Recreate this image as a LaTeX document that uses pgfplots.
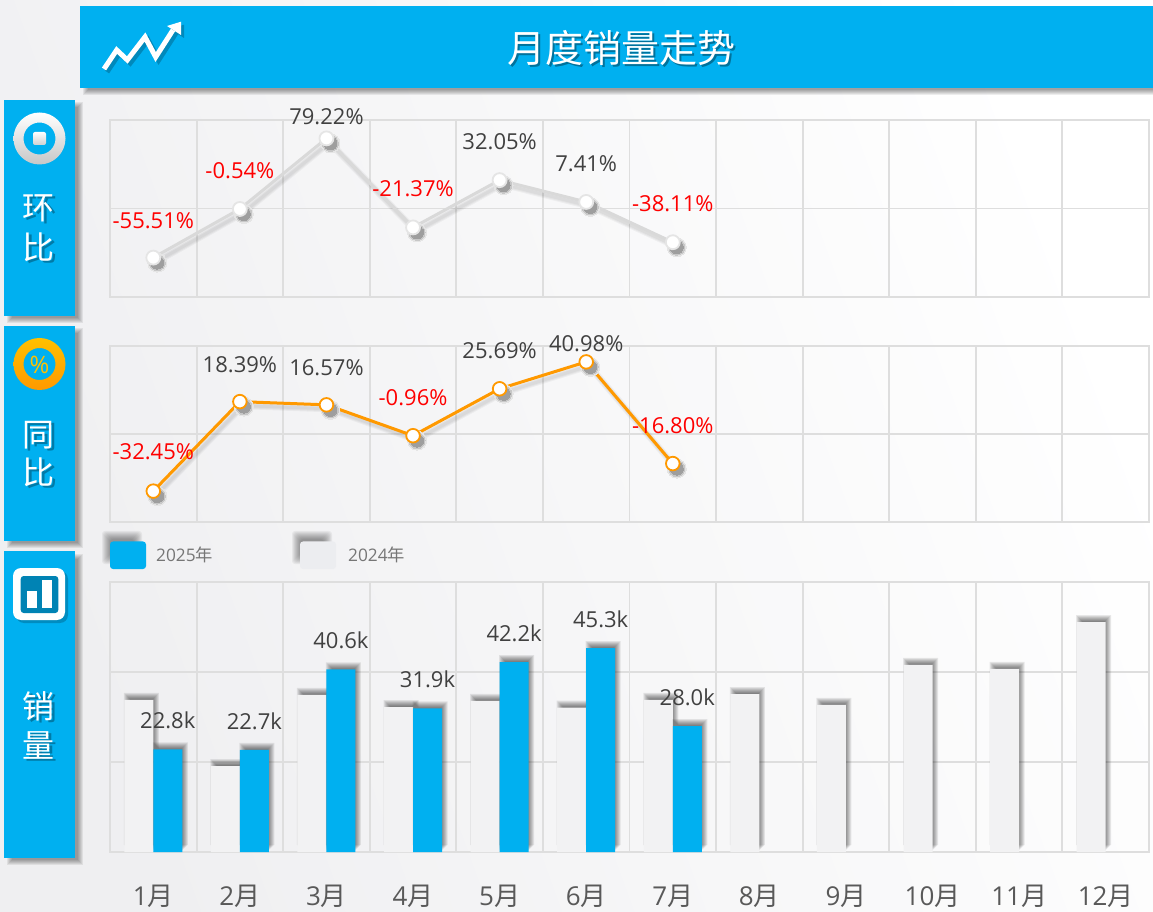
\documentclass[border=0pt]{standalone}
\usepackage{pgfplots}
\usepackage{pgfplotstable}
\usepackage{fontspec}
\pgfplotsset{compat=1.18}
\setmainfont{Open Sans}
\newfontfamily\cjk{Noto Sans CJK SC}
\definecolor{sky}{HTML}{00B0F0}
\definecolor{gridc}{HTML}{DEDEDE}
\definecolor{lineA}{HTML}{D9D9D9}
\definecolor{lineB}{HTML}{FF9900}
\definecolor{barA}{HTML}{F2F2F3}
\definecolor{txt}{HTML}{404040}
\definecolor{patch}{HTML}{ECEDF0}
\definecolor{lgd}{HTML}{767676}
\definecolor{tick}{HTML}{595959}
\definecolor{bgl}{HTML}{EFEFF1}
\definecolor{ringt}{HTML}{FFC000}
\definecolor{iconb}{HTML}{0083B4}
\newcommand\lb{\fontsize{22}{24}\selectfont}
\pgfplotstableread{
m v
1 -55.51
2 -0.54
3 79.22
4 -21.37
5 32.05
6 7.41
7 -38.11
}\hb
\pgfplotstableread{
m v
1 -32.45
2 18.39
3 16.57
4 -0.96
5 25.69
6 40.98
7 -16.80
}\tb
\pgfplotstableread{
m v
1 33.8
2 19.1
3 34.9
4 32.2
5 33.6
6 32.1
7 33.8
8 35.1
9 32.7
10 41.6
11 40.7
12 51.1
}\ya
\pgfplotstableread{
m v
1 22.8
2 22.7
3 40.6
4 31.9
5 42.2
6 45.3
7 28.0
}\yb
\pgfplotsset{panel/.style={
  scale only axis, width=1039pt, xmin=0.5, xmax=12.5, clip=false,
  xtick={1,...,12}, minor xtick={0.5,1.5,...,12.5},
  xminorgrids=true, ymajorgrids=true,
  major tick length=0pt, minor tick length=0pt,
  grid style={gridc,line width=1.9pt}, minor grid style={gridc,line width=1.9pt},
  axis line style={gridc,line width=1.9pt},
  yticklabels={},
}}
% soft rectangular shadow, pixel coordinates
\newcommand\softbox[5]{\foreach \d in {-2.5,-1.5,-0.5,0.5,1.5,2.5}{
  \fill[black,opacity=#5] ({#1-\d},{#2-\d}) rectangle ({#3+\d},{#4+\d});}}
\newcommand\softwide[5]{\foreach \d in {-4,-3,-2,-1,0,1,2,3,4}{
  \fill[black,opacity=#5,rounded corners=3pt] ({#1-\d},{#2-\d}) rectangle ({#3+\d},{#4+\d});}}
\newcommand\barshadow[2]{\pgfplotsinvokeforeach{-3,-2,-1,0,1,2,3}{%
  \addplot[ybar,draw=none,fill=black,fill opacity=.085,bar width={29pt+2*(##1)*1pt},bar shift=#2,xshift=2.5pt,yshift={(4+##1)*1pt}] table[x=m,y=v]{#1};}}
\newcommand\markshadow[3]{\addplot[only marks,mark=*,mark size=#2 pt,mark options={draw=black!#3!white,fill=black!#3!white,line width=0pt},xshift=4pt,yshift=-5pt] table[x=m,y=v]{#1};}
\newcommand\lineshadow[1]{\pgfplotsinvokeforeach{3,5,7}{%
  \addplot[black,opacity=.04,line width=##1 pt,xshift=3pt,yshift=-4pt] table[x=m,y=v]{#1};}
  \markshadow{#1}{9.5}{10}\markshadow{#1}{8}{22}\markshadow{#1}{6.5}{38}}
\newcommand\lab[5]{\node[font=\lb,text=#4,yshift=#3 pt] at (axis cs:#1,#2) {#5};}
\begin{document}
\begin{tikzpicture}
\useasboundingbox (0,0) rectangle (1153pt,911pt);
\shade[left color=bgl,right color=white,shading angle=110] (0,0) rectangle (1153pt,911pt);
\begin{scope}[x=1pt,y=-1pt,yshift=911pt]
  % title band
  \softbox{85}{11}{1158}{93}{.07}
  \fill[sky] (80,6) rectangle (1153,88);
  \node[font=\cjk\fontsize{38}{40}\selectfont,text=black,opacity=.35] at (623,50) {月度销量走势};
  \node[font=\cjk\fontsize{38}{40}\selectfont,text=white] at (621,48) {月度销量走势};
  % trend icon
  \begin{scope}[shift={(3,3)},black,opacity=.22]
    \draw[line width=5pt,miter limit=10] (104,69)--(116.7,50)--(127.3,60)--(145,37)--(155.7,57)--(173,30);
    \fill (167,26)--(181,21.7)--(181,35)--cycle;
  \end{scope}
  \draw[white,line width=5pt,miter limit=10] (104,69)--(116.7,50)--(127.3,60)--(145,37)--(155.7,57)--(173,30);
  \fill[white] (167,26)--(181,21.7)--(181,35)--cycle;
  % side panels
  \softbox{9}{105}{80}{321}{.07}
  \softbox{9}{331}{80}{546}{.07}
  \softbox{9}{556}{80}{862}{.07}
  \fill[sky] (4,100) rectangle (75,316);
  \fill[sky] (4,326) rectangle (75,541);
  \fill[sky] (4,551) rectangle (75,857.5);
  % icon 1
  \path[even odd rule,top color=white,bottom color=black!22!white] (39.5,138.5) circle (26) (39.5,138.5) circle (16);
  \shade[top color=white,bottom color=black!18!white,rounded corners=2pt] (33,132) rectangle (46,145);
  % icon 2
  \path[even odd rule,top color=ringt,bottom color=lineB] (39.5,364) circle (26) (39.5,364) circle (16);
  \node[font=\fontsize{24}{24}\selectfont,text=ringt] at (39.5,365) {\%};
  % icon 3
  \fill[black,opacity=.2,rounded corners=8pt] (16,571) rectangle (68,623);
  \fill[white,rounded corners=8pt] (13,568) rectangle (65,620);
  \fill[iconb,rounded corners=3pt] (20.7,576) rectangle (58.3,613);
  \fill[white] (26.7,590.7) rectangle (36.7,608);
  \fill[white] (42.3,580) rectangle (52.3,608);
  % side labels
  \foreach \t/\y in {环/208,比/247,同/435,比/472,销/706,量/745}{
    \node[font=\cjk\fontsize{32}{34}\selectfont,text=black,opacity=.3] at (41,\y+2) {\t};
    \node[font=\cjk\fontsize{32}{34}\selectfont,text=white] at (39,\y) {\t};
  }
  % legend
  \softwide{106}{535}{138}{560}{.05}
  \fill[sky,rounded corners=3pt] (110,541.5) rectangle (146,569);
  \node[font=\fontsize{17.3}{18}\selectfont,text=lgd,anchor=west,inner sep=0pt] at (156,554.5) {2025{\cjk 年}};
  \softwide{296}{535}{328}{560}{.05}
  \fill[patch,rounded corners=3pt] (300,541.5) rectangle (336,569);
  \node[font=\fontsize{17.3}{18}\selectfont,text=lgd,anchor=west,inner sep=0pt] at (348,554.5) {2024{\cjk 年}};
\end{scope}

% month-on-month
\begin{axis}[panel,at={(110pt,614pt)},anchor=south west,height=177pt,
  ymin=-100,ymax=100,ytick={0},xticklabels={}]
  \lineshadow{\hb}
  \addplot[lineA,line width=3pt,mark=*,mark size=7pt,mark options={fill=white,draw=black!10!white,line width=1.8pt}] table[x=m,y=v]{\hb};
  \lab{1}{-55.51}{37}{red}{-55.51\%}
  \lab{2}{-0.54}{38}{red}{-0.54\%}
  \lab{3}{79.22}{22}{txt}{79.22\%}
  \lab{4}{-21.37}{39}{red}{-21.37\%}
  \lab{5}{32.05}{38}{txt}{32.05\%}
  \lab{6}{7.41}{38}{txt}{7.41\%}
  \lab{7}{-38.11}{39}{red}{-38.11\%}
\end{axis}

% year-on-year
\begin{axis}[panel,at={(110pt,389pt)},anchor=south west,height=176pt,
  ymin=-50,ymax=50,ytick={0},xticklabels={}]
  \lineshadow{\tb}
  \addplot[lineB,line width=3pt,mark=*,mark size=6.8pt,mark options={fill=white,draw=lineB,line width=1.8pt}] table[x=m,y=v]{\tb};
  \lab{1}{-32.45}{39}{red}{-32.45\%}
  \lab{2}{18.39}{37}{txt}{18.39\%}
  \lab{3}{16.57}{37}{txt}{16.57\%}
  \lab{4}{-0.96}{38}{red}{-0.96\%}
  \lab{5}{25.69}{38}{txt}{25.69\%}
  \lab{6}{40.98}{18}{txt}{40.98\%}
  \lab{7}{-16.80}{38}{red}{-16.80\%}
\end{axis}

% sales
\begin{axis}[panel,at={(110pt,59pt)},anchor=south west,height=270pt,
  ymin=0,ymax=60,ytick={20,40},
  xticklabels={{1{\cjk 月}},{2{\cjk 月}},{3{\cjk 月}},{4{\cjk 月}},{5{\cjk 月}},{6{\cjk 月}},{7{\cjk 月}},{8{\cjk 月}},{9{\cjk 月}},{10{\cjk 月}},{11{\cjk 月}},{12{\cjk 月}}},
  xticklabel style={font=\fontsize{26}{26}\selectfont,text=tick,anchor=center,yshift=-44pt}]
  \barshadow{\ya}{-14.5pt}
  \addplot[ybar,draw=none,fill=barA,bar width=29pt,bar shift=-14.5pt] table[x=m,y=v]{\ya};
  \barshadow{\yb}{14.5pt}
  \addplot[ybar,draw=none,fill=sky,bar width=29pt,bar shift=14.5pt,
    nodes near coords,point meta=explicit symbolic,
    every node near coord/.style={font=\lb,text=txt,anchor=center,xshift=14.5pt,yshift=29pt,opacity=1}]
    coordinates {(1,22.8)[22.8k] (2,22.7)[22.7k] (3,40.6)[40.6k] (4,31.9)[31.9k] (5,42.2)[42.2k] (6,45.3)[45.3k] (7,28.0)[28.0k]};
\end{axis}
\end{tikzpicture}
\end{document}
